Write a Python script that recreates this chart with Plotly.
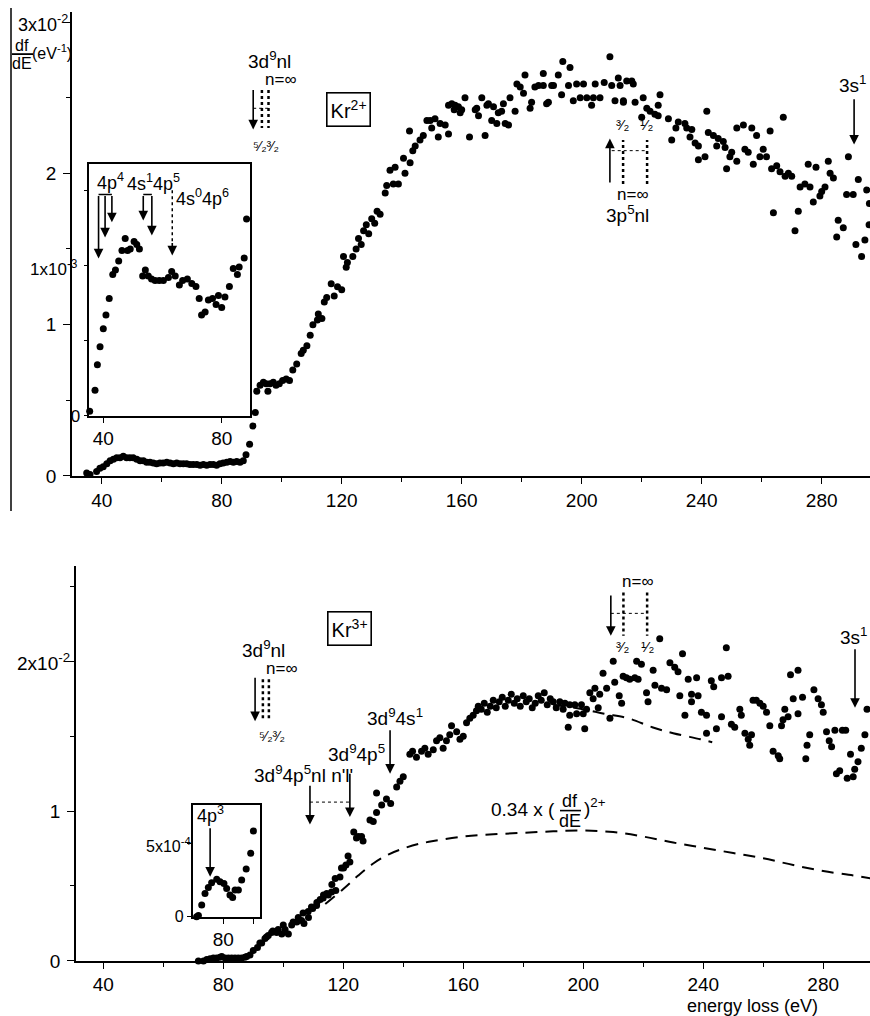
import plotly.graph_objects as go

W = 870
REF_H = 1016          # reference picture height (pixel coordinates used below)
H = 1029              # figure height
FONT = "Liberation Sans, DejaVu Sans, sans-serif"

# ---------------- data ----------------
# Kr2+ : energy loss (eV) and df/dE (units of 1e-2 eV^-1)
kr2_E = [35.0, 36.1, 38.3, 39.4, 40.5, 41.7, 42.8, 43.9, 45.0, 46.1, 47.2, 48.3, 49.4, 50.5,
         51.7, 52.8, 53.9, 55.0, 56.1, 57.2, 58.3, 59.4, 60.5, 61.7, 62.8, 63.9, 65.0, 66.1,
         67.2, 68.3, 69.4, 70.5, 71.7, 72.8, 73.9, 75.0, 76.1, 77.2, 78.3, 79.4, 80.5, 81.7,
         82.8, 83.9, 85.0, 86.1, 87.2, 88.1, 89.3, 90.4, 91.2,
         91.7, 92.8, 93.9, 94.8, 95.4, 96.1, 97.2, 98.1, 99.2, 100.3, 101.5, 102.6, 103.7,
         105.0, 106.5, 107.2, 108.4, 109.5, 110.4, 111.9, 112.2, 113.4, 114.2, 115.0, 116.5,
         117.5, 118.6, 120.0, 120.6, 121.5, 121.9, 123.7,
         124.8, 125.6, 126.5, 127.3, 128.2, 129.0, 130.0, 131.0, 131.8,
         132.8, 134.5, 135.0, 137.2, 138.9, 136.1, 137.8, 140.6, 141.1, 142.8, 143.7, 144.5,
         146.1, 147.2, 148.4, 142.6, 150.0, 149.5, 151.1, 152.2, 152.8, 154.5, 155.6, 155.6,
         156.7, 157.8, 158.9, 157.5, 159.5, 160.0, 161.1, 162.6, 164.5, 165.6, 165.0, 166.7,
         167.8, 168.4, 168.9, 170.0, 170.6, 171.7, 172.2, 173.3, 173.9, 174.5, 175.6, 176.1,
         177.8, 178.4, 179.5, 180.6, 181.1, 182.8, 183.3, 184.4, 185.6, 187.2, 187.2, 188.3,
         188.9, 190.0, 190.6, 192.2, 193.3, 193.7, 195.6, 196.1, 197.2, 198.3, 199.5, 200.6,
         201.7, 203.3, 203.9, 204.5, 206.1, 207.5, 212.8,
         209.4, 210.0, 212.2, 215.0, 216.7, 217.2, 211.1, 213.9, 213.9, 217.8, 220.5, 226.1,
         225.5, 221.7, 222.8, 224.4, 220.0, 225.5, 228.9, 230.0, 231.4, 232.2, 234.4, 235.0,
         236.1, 236.7, 237.8, 238.9, 238.9, 241.1, 241.7, 242.2, 243.9, 245.0, 245.5, 247.2,
         247.8, 248.3, 249.4, 250.0, 251.7, 251.7, 253.9, 254.4, 255.5, 256.7, 257.2, 258.3,
         259.4, 260.5, 261.6, 262.8, 263.3, 263.9, 265.0, 266.1, 267.2, 267.8, 268.9, 270.0,
         271.1, 272.2, 272.8, 274.4, 275.5, 276.1, 277.2, 278.1, 279.4, 280.0, 281.1, 282.2,
         282.8, 283.9, 285.0, 285.5, 287.2, 288.3, 288.9, 290.5, 291.4, 292.2, 293.3, 294.4,
         295.0, 295.8, 295.9]
kr2_y = [0.02, 0.01, 0.03, 0.05, 0.06, 0.08, 0.10, 0.11, 0.12, 0.12, 0.13, 0.12, 0.12, 0.12,
         0.11, 0.10, 0.10, 0.09, 0.09, 0.085, 0.08, 0.085, 0.085, 0.09, 0.085, 0.08, 0.085, 0.08,
         0.08, 0.08, 0.075, 0.075, 0.075, 0.07, 0.075, 0.07, 0.075, 0.075, 0.07, 0.08, 0.085, 0.09,
         0.095, 0.09, 0.095, 0.09, 0.10, 0.14, 0.21, 0.33, 0.42,
         0.56, 0.60, 0.62, 0.61, 0.56, 0.61, 0.62, 0.60, 0.61, 0.63, 0.64, 0.63, 0.70,
         0.74, 0.81, 0.83, 0.86, 0.93, 1.00, 1.03, 1.07, 1.04, 1.15, 1.18, 1.27,
         1.19, 1.25, 1.23, 1.45, 1.38, 1.41, 1.45,
         1.50, 1.57, 1.53, 1.62, 1.66, 1.60, 1.70, 1.67, 1.75,
         1.73, 1.87, 1.92, 1.93, 1.93, 2.02, 2.04, 2.10, 2.00, 2.07, 2.15, 2.18,
         2.22, 2.25, 2.35, 2.28, 2.30, 2.35, 2.36, 2.24, 2.33, 2.32, 2.26, 2.45,
         2.46, 2.45, 2.44, 2.42, 2.40, 2.42, 2.50, 2.24, 2.42, 2.38, 2.43, 2.50,
         2.25, 2.45, 2.46, 2.35, 2.44, 2.33, 2.40, 2.41, 2.46, 2.33, 2.32, 2.50,
         2.41, 2.59, 2.57, 2.53, 2.65, 2.43, 2.47, 2.57, 2.58, 2.66, 2.58, 2.46,
         2.47, 2.58, 2.58, 2.65, 2.52, 2.74, 2.58, 2.70, 2.48, 2.59, 2.50, 2.59,
         2.50, 2.45, 2.50, 2.59, 2.50, 2.60, 2.58,
         2.77, 2.58, 2.63, 2.61, 2.61, 2.59, 2.48, 2.48, 2.47, 2.47, 2.50, 2.52,
         2.45, 2.43, 2.41, 2.39, 2.37, 2.38, 2.36, 2.22, 2.30, 2.34, 2.33, 2.30,
         2.24, 2.29, 2.20, 2.18, 2.09, 2.11, 2.41, 2.27, 2.25, 2.18, 2.23, 2.21,
         2.17, 2.03, 2.11, 2.14, 2.30, 2.08, 2.32, 2.16, 2.14, 2.30, 2.06, 2.25,
         2.11, 2.16, 2.11, 2.28, 2.03, 1.74, 2.05, 2.01, 2.37, 1.98, 2.00, 1.98,
         1.62, 1.75, 1.91, 1.93, 2.06, 1.91, 1.81, 2.04, 1.85, 1.88, 1.91, 2.08,
         2.00, 1.97, 1.58, 1.69, 1.64, 1.86, 2.11, 1.86, 1.53, 1.96, 1.45, 1.56,
         1.89, 1.66, 1.80]

# Kr2+ inset: energy (eV) and df/dE (units of 1e-3 eV^-1)
kr2_in_E = [35.4, 37.2, 38.0, 38.9, 40.0, 40.9, 42.0, 43.2, 44.1, 45.2, 46.3, 47.4, 48.2,
            49.1, 50.4, 51.3, 52.2, 53.3, 54.2, 55.2, 56.3, 57.5, 58.9, 60.3, 62.0, 63.1,
            64.3, 65.7, 66.8, 68.4, 69.9, 71.3, 72.4, 73.2, 74.4, 75.5, 76.9, 78.1, 78.9,
            80.0, 81.1, 82.6, 83.9, 85.3, 85.9, 87.6, 88.4]
kr2_in_y = [0.03, 0.17, 0.34, 0.46, 0.58, 0.67, 0.78, 0.94, 0.97, 1.03, 1.10, 1.18, 1.10,
            1.11, 1.16, 1.14, 1.11, 0.93, 0.97, 0.93, 0.91, 0.90, 0.90, 0.90, 0.92, 0.96,
            0.93, 0.87, 0.90, 0.91, 0.88, 0.86, 0.78, 0.67, 0.69, 0.77, 0.78, 0.74, 0.80,
            0.72, 0.79, 0.86, 0.98, 0.94, 0.99, 1.05, 1.31]

# Kr3+ : energy loss (eV) and df/dE (units of 1e-2 eV^-1)
kr3_E = [71.7, 73.4, 74.5, 75.6, 76.7, 77.8, 78.9, 79.5, 80.6, 81.7, 82.8, 83.9, 85.0, 86.1,
         87.2, 87.8, 88.9, 90.0, 91.4, 92.2, 92.8, 93.9, 94.4, 95.0, 96.1, 96.5, 97.8, 98.3,
         99.5, 100.0, 100.6, 101.7, 102.8, 103.3, 104.5, 105.0, 106.1, 106.6, 106.9, 108.3,
         108.4, 109.4, 109.8, 111.1, 111.2, 112.3, 113.3, 113.4, 114.5, 115.0, 116.1, 116.2,
         117.3, 117.5, 118.9, 119.4, 120.1, 120.9, 121.6, 122.2, 123.5, 124.4, 125.0, 126.1,
         126.6, 128.9, 130.0, 131.1, 131.1, 132.8, 134.4, 135.8, 137.8, 138.9, 140.0, 142.2,
         143.1, 144.4, 146.1, 147.2, 148.3, 150.0, 151.1, 152.2, 153.3, 154.4, 155.5, 156.1,
         157.8, 158.9, 160.0, 161.1, 162.2, 163.3, 164.4, 165.0,
         166.0, 167.0, 168.0, 169.0, 170.0, 171.0, 172.0, 173.0, 174.0, 175.0, 176.0, 177.0,
         178.0, 179.0, 180.0, 181.0, 182.0, 183.0, 184.0, 185.0, 186.0, 187.0, 188.0, 189.0,
         190.0, 191.0,
         192.2, 193.9, 195.5, 193.3, 195.5, 197.2, 197.8, 199.4, 200.0, 200.5, 195.0, 201.1,
         202.2, 203.3, 203.9, 205.0, 205.5, 206.6, 207.8, 208.9, 210.0, 210.5, 212.0, 212.8,
         213.3, 214.4, 215.5, 217.2, 218.3, 217.8, 219.4, 221.1, 221.6, 223.3, 223.9, 225.5,
         226.1, 227.8, 228.9, 230.5, 231.6, 233.1, 232.2, 233.9, 235.0, 236.1, 236.1, 237.8,
         238.3, 239.4, 241.1, 241.1, 242.7, 243.5, 244.4, 246.1, 246.1, 247.7, 248.3, 249.4,
         250.5, 252.2, 252.7, 253.9, 255.0, 255.5, 256.1, 256.6, 257.7, 258.9, 260.0, 261.1,
         262.2, 263.3, 265.0, 265.5, 266.1, 266.6, 267.2, 268.3, 269.1, 270.0, 271.6, 271.6,
         273.1, 274.2, 274.6, 275.5, 276.9, 278.3, 279.4, 280.0, 281.1, 282.0, 282.8, 283.9,
         284.4, 285.5, 286.4, 287.5, 288.0, 289.1, 290.0, 290.5, 291.6, 292.7, 293.9, 294.6]
kr3_y = [0.0, 0.0, 0.01, 0.015, 0.02, 0.02, 0.025, 0.03, 0.02, 0.02, 0.02, 0.02, 0.02, 0.02,
         0.025, 0.03, 0.04, 0.07, 0.09, 0.12, 0.12, 0.15, 0.16, 0.17, 0.19, 0.20, 0.19, 0.21,
         0.18, 0.24, 0.21, 0.18, 0.24, 0.26, 0.26, 0.29, 0.27, 0.32, 0.25, 0.33,
         0.29, 0.36, 0.35, 0.37, 0.39, 0.41, 0.42, 0.44, 0.45, 0.44, 0.46, 0.51,
         0.55, 0.47, 0.56, 0.62, 0.62, 0.64, 0.70, 0.66, 0.86, 0.82, 0.83, 0.83,
         0.80, 0.94, 0.93, 0.99, 1.12, 1.04, 1.08, 1.05, 1.16, 1.20, 1.23, 1.38,
         1.40, 1.36, 1.40, 1.42, 1.38, 1.41, 1.47, 1.49, 1.42, 1.47, 1.51, 1.57,
         1.53, 1.48, 1.50, 1.59, 1.62, 1.64, 1.67, 1.70,
         1.68, 1.72, 1.66, 1.70, 1.74, 1.69, 1.73, 1.76, 1.70, 1.74, 1.78, 1.72,
         1.75, 1.70, 1.77, 1.73, 1.75, 1.69, 1.72, 1.77, 1.74, 1.79, 1.71, 1.75,
         1.73, 1.69,
         1.73, 1.72, 1.71, 1.68, 1.64, 1.71, 1.65, 1.71, 1.65, 1.55, 1.56, 1.68,
         1.79, 1.75, 1.82, 1.69, 1.78, 1.92, 1.82, 1.62, 2.00, 1.86, 1.77, 1.72,
         1.90, 1.89, 1.88, 1.89, 1.88, 2.00, 1.98, 1.79, 1.73, 1.94, 1.84, 2.15,
         1.82, 1.81, 1.99, 1.96, 1.93, 2.05, 1.77, 1.64, 1.88, 1.78, 1.73, 1.89,
         1.77, 1.66, 1.52, 1.64, 1.87, 1.83, 1.55, 1.89, 1.63, 2.09, 1.90, 1.58,
         1.56, 1.68, 1.64, 1.52, 1.48, 1.44, 1.51, 1.74, 1.74, 1.72, 1.70, 1.66,
         1.57, 1.40, 1.37, 1.35, 1.57, 1.61, 1.68, 1.63, 1.91, 1.75, 1.94, 1.65,
         1.76, 1.35, 1.44, 1.51, 1.81, 1.75, 1.71, 1.66, 1.53, 1.47, 1.43, 1.54,
         1.25, 1.27, 1.54, 1.54, 1.22, 1.38, 1.23, 1.28, 1.33, 1.42, 1.51, 1.68]

# Kr3+ inset: energy (eV) and df/dE (units of 1e-4 eV^-1)
kr3_in_E = [71.1, 71.7, 72.8, 73.9, 75.0, 76.1, 77.8, 78.9, 80.2, 81.1, 82.2, 83.1, 83.9,
            85.0, 86.1, 87.6, 89.1, 90.0]
kr3_in_y = [0.0, 0.08, 0.8, 1.59, 2.0, 2.32, 2.56, 2.39, 2.27, 1.93, 1.48, 1.32, 1.82,
            1.82, 2.5, 3.25, 4.32, 5.84]

# dashed curve: 0.34 x (df/dE) of Kr2+
scaled_E = [114, 120, 125, 130, 135, 140, 145, 150, 160, 170, 180, 190, 200, 210, 220,
            230, 240, 250, 260, 270, 280, 290, 296]
scaled_y = [0.38, 0.48, 0.57, 0.65, 0.71, 0.75, 0.78, 0.80, 0.83, 0.845, 0.855, 0.865,
            0.87, 0.86, 0.83, 0.79, 0.755, 0.72, 0.685, 0.64, 0.60, 0.57, 0.55]

# dashed curve: extrapolated Kr3+ background
extrap_E = [190, 200, 207, 215, 223, 230, 239, 243]
extrap_y = [1.71, 1.68, 1.65, 1.62, 1.56, 1.52, 1.48, 1.46]

x_major = [40, 80, 120, 160, 200, 240, 280]
x_minor = [60, 100, 140, 180, 220, 260]

# ---------------- helpers ----------------
def px(X):
    return X / W

def py(Y):
    return 1 - Y / REF_H

ann = []
shapes = []

def txt(x, y, s, xr="x", yr="y", size=19, xanchor="center", yanchor="middle", box=False):
    d = dict(x=x, y=y, xref=xr, yref=yr, text=s, showarrow=False,
             font=dict(size=size, color="black", family=FONT),
             xanchor=xanchor, yanchor=yanchor)
    if box:
        d.update(bordercolor="black", borderwidth=1.6, borderpad=3, bgcolor="white")
    ann.append(d)

def arrow(x, y0, y1, xr="x", yr="y"):
    ann.append(dict(x=x, y=y1, ax=x, ay=y0, xref=xr, yref=yr, axref=xr, ayref=yr,
                    text="", showarrow=True, arrowhead=2, arrowsize=1.2,
                    arrowwidth=1.6, arrowcolor="black"))

def seg(x0, y0, x1, y1, xr="x", yr="y", dash="solid", width=1.5):
    shapes.append(dict(type="line", x0=x0, y0=y0, x1=x1, y1=y1, xref=xr, yref=yr,
                       line=dict(color="black", width=width, dash=dash)))

# ---------------- figure ----------------
fig = go.Figure()
mk = dict(color="black", size=7)
fig.add_trace(go.Scatter(x=kr2_E, y=kr2_y, mode="markers", marker=mk,
                         xaxis="x", yaxis="y", cliponaxis=False, showlegend=False))
fig.add_trace(go.Scatter(x=kr2_in_E, y=kr2_in_y, mode="markers", marker=mk,
                         xaxis="x2", yaxis="y2", cliponaxis=False, showlegend=False))
fig.add_trace(go.Scatter(x=kr3_E, y=kr3_y, mode="markers", marker=mk,
                         xaxis="x3", yaxis="y3", cliponaxis=False, showlegend=False))
fig.add_trace(go.Scatter(x=kr3_in_E, y=kr3_in_y, mode="markers", marker=mk,
                         xaxis="x4", yaxis="y4", cliponaxis=False, showlegend=False))
dline = dict(color="black", width=2, dash="12px,8px")
fig.add_trace(go.Scatter(x=scaled_E, y=scaled_y, mode="lines", line=dline, line_shape="spline",
                         xaxis="x3", yaxis="y3", showlegend=False))
fig.add_trace(go.Scatter(x=extrap_E, y=extrap_y, mode="lines", line=dline, line_shape="spline",
                         xaxis="x3", yaxis="y3", showlegend=False))

tf = dict(size=19, color="black", family=FONT)
common = dict(showline=True, linecolor="black", linewidth=1.6, ticks="outside",
              tickcolor="black", tickwidth=1.4, showgrid=False, zeroline=False,
              tickfont=tf)
minor_y = dict(tickvals=[0.5, 1.5, 2.5], ticks="outside", ticklen=4,
               tickcolor="black", tickwidth=1.2)

xa_main = dict(common, tickvals=x_major, ticklen=6,
               minor=dict(tickvals=x_minor, ticks="outside", ticklen=4,
                          tickcolor="black", tickwidth=1.2))

fig.update_layout(
    xaxis=dict(xa_main, domain=[px(72), 1], range=[30.1, 296.1], anchor="y"),
    yaxis=dict(common, domain=[py(475), py(12)], range=[0, (475 - 12) / 151],
               anchor="x", tickvals=[0, 1, 2, 3], ticktext=["0", "1", "2", ""],
               ticklen=7, ticklabelstandoff=3, minor=minor_y),
    xaxis2=dict(common, domain=[px(89.3), px(250)], range=[35.27, 89.56], anchor="y2",
                mirror=True, tickvals=[40, 80], ticklen=5),
    yaxis2=dict(common, domain=[py(415), py(164)], range=[0, 1.673], anchor="x2",
                mirror=True, tickvals=[0, 1], ticktext=["0", ""], ticklen=4,
                minor=dict(tickvals=[0.5, 1.5], ticks="outside", ticklen=4,
                           tickcolor="black", tickwidth=1.2),
                tickfont=dict(size=17, color="black", family=FONT)),
    xaxis3=dict(xa_main, domain=[px(76), 1], range=[30.9, 295.6], anchor="y3"),
    yaxis3=dict(common, domain=[py(959), py(565)], range=[0, (959 - 565) / 149.5],
                anchor="x3", tickvals=[0, 1, 2], ticktext=["0", "1", ""],
                ticklen=7, ticklabelstandoff=3, minor=minor_y),
    xaxis4=dict(common, domain=[px(192.7), px(260)], range=[69.8, 92.2], anchor="y4",
                mirror=True, tickvals=[80], ticklen=5,
                minor=dict(tickvals=[90], ticks="outside", ticklen=5,
                           tickcolor="black", tickwidth=1.2)),
    yaxis4=dict(common, domain=[py(915), py(803)], range=[0, 7.63], anchor="x4",
                mirror=True, tickvals=[0, 5], ticktext=["0", ""],
                ticklen=4, tickfont=dict(size=16, color="black", family=FONT)),
)

# exponent-style y tick labels, placed close to their ticks as in the original
def paper_label(X, Y, s, size):
    txt(px(X), py(Y), s, xr="paper", yr="paper", size=size, xanchor="right")

paper_label(70, 23, "3x10<sup>-2</sup>", 18)     # top axis, value 3
paper_label(72, 661, "2x10<sup>-2</sup>", 19)    # bottom axis, value 2
paper_label(80, 267, "1x10<sup>-3</sup>", 17)    # top inset, value 1
paper_label(193, 843, "5x10<sup>-4</sup>", 16)   # bottom inset, value 5

# ---- top panel annotations ----
txt(96.0, 2.75, "3d<sup>9</sup>nl")
txt(99.6, 2.62, "n=∞", size=17)
arrow(90.5, 2.56, 2.29)
seg(93.4, 2.55, 93.4, 2.30, dash="dot", width=2.5)
seg(95.6, 2.55, 95.6, 2.30, dash="dot", width=2.5)
seg(90.5, 2.43, 95.6, 2.43, dash="dot", width=1)
txt(94.8, 2.18, "⁵⁄₂³⁄₂", size=14)
txt(122.1, 2.42, "Kr<sup>2+</sup>", size=20, box=True)

arrow(209.4, 1.93, 2.23)
seg(213.8, 1.93, 213.8, 2.22, dash="dot", width=2.5)
seg(221.8, 1.93, 221.8, 2.22, dash="dot", width=2.5)
seg(210.0, 2.15, 221.8, 2.15, dash="dot", width=1)
txt(213.8, 2.32, "³⁄₂", size=15)
txt(221.8, 2.32, "¹⁄₂", size=15)
txt(217.1, 1.86, "n=∞", size=17)
txt(215.1, 1.73, "3p<sup>5</sup>nl")

txt(290.4, 2.59, "3s<sup>1</sup>")
arrow(290.8, 2.50, 2.19)

# top inset annotations
txt(42.3, 1.56, "4p<sup>4</sup>", xr="x2", yr="y2", size=18)
seg(38.4, 1.473, 42.9, 1.473, xr="x2", yr="y2")
arrow(38.4, 1.473, 1.047, xr="x2", yr="y2")
arrow(40.6, 1.473, 1.187, xr="x2", yr="y2")
arrow(42.9, 1.473, 1.287, xr="x2", yr="y2")
txt(57.0, 1.553, "4s<sup>1</sup>4p<sup>5</sup>", xr="x2", yr="y2", size=18)
seg(53.5, 1.473, 56.4, 1.473, xr="x2", yr="y2")
arrow(53.5, 1.473, 1.30, xr="x2", yr="y2")
arrow(56.4, 1.473, 1.20, xr="x2", yr="y2")
txt(63.9, 1.45, "4s<sup>0</sup>4p<sup>6</sup>", xr="x2", yr="y2", size=18, xanchor="left")
seg(63.3, 1.50, 63.3, 1.15, xr="x2", yr="y2", dash="dot", width=1.5)
arrow(63.3, 1.16, 1.067, xr="x2", yr="y2")

# y-axis label (top)
txt(px(22), py(45), "df", xr="paper", yr="paper", size=16)
txt(px(22), py(63), "dE", xr="paper", yr="paper", size=16)
seg(px(12), py(54), px(33), py(54), xr="paper", yr="paper", width=1.8)
txt(px(52), py(52), "(eV<sup>-1</sup>)", xr="paper", yr="paper", size=16)

# ---- bottom panel annotations ----
txt(122.2, 2.22, "Kr<sup>3+</sup>", xr="x3", yr="y3", size=20, box=True)
txt(93.3, 2.08, "3d<sup>9</sup>nl", xr="x3", yr="y3")
txt(99.6, 1.95, "n=∞", xr="x3", yr="y3", size=17)
arrow(90.6, 1.90, 1.60, xr="x3", yr="y3")
seg(93.2, 1.88, 93.2, 1.61, xr="x3", yr="y3", dash="dot", width=2.5)
seg(95.2, 1.88, 95.2, 1.61, xr="x3", yr="y3", dash="dot", width=2.5)
txt(96.2, 1.50, "⁵⁄₂³⁄₂", xr="x3", yr="y3", size=14)
txt(106.6, 1.25, "3d<sup>9</sup>4p<sup>5</sup>nl n'l'", xr="x3", yr="y3")
arrow(108.9, 1.18, 0.91, xr="x3", yr="y3")
seg(108.9, 1.06, 122.2, 1.06, xr="x3", yr="y3", dash="dot", width=1)
arrow(122.2, 1.26, 0.96, xr="x3", yr="y3")
txt(124.5, 1.39, "3d<sup>9</sup>4p<sup>5</sup>", xr="x3", yr="y3")
txt(137.2, 1.63, "3d<sup>9</sup>4s<sup>1</sup>", xr="x3", yr="y3")
arrow(135.6, 1.55, 1.25, xr="x3", yr="y3")

txt(215.6, 2.66, "3p<sup>5</sup>nl", xr="x3", yr="y3")
txt(218.4, 2.53, "n=∞", xr="x3", yr="y3", size=17)
arrow(209.2, 2.45, 2.17, xr="x3", yr="y3")
seg(213.4, 2.46, 213.4, 2.17, xr="x3", yr="y3", dash="dot", width=2.5)
seg(221.3, 2.46, 221.3, 2.17, xr="x3", yr="y3", dash="dot", width=2.5)
seg(209.2, 2.32, 221.3, 2.32, xr="x3", yr="y3", dash="dot", width=1)
txt(213.4, 2.10, "³⁄₂", xr="x3", yr="y3", size=15)
txt(221.6, 2.10, "¹⁄₂", xr="x3", yr="y3", size=15)

txt(290.0, 2.17, "3s<sup>1</sup>", xr="x3", yr="y3")
arrow(290.6, 2.09, 1.69, xr="x3", yr="y3")

# bottom inset annotation
txt(75.6, 6.95, "4p<sup>3</sup>", xr="x4", yr="y4", size=18)
arrow(75.6, 6.13, 2.73, xr="x4", yr="y4")

# 0.34 x (df/dE)^2+ label
txt(px(557), py(808), "0.34 x (", xr="paper", yr="paper", size=19, xanchor="right")
txt(px(570), py(799), "df", xr="paper", yr="paper", size=18)
txt(px(570), py(819), "dE", xr="paper", yr="paper", size=18)
seg(px(560), py(809), px(581), py(809), xr="paper", yr="paper", width=1.6)
txt(px(582), py(805), ")<sup>2+</sup>", xr="paper", yr="paper", size=19, xanchor="left")

# x-axis title
txt(px(752), py(1004), "energy loss (eV)", xr="paper", yr="paper", size=18)

# scan border line on the left of the upper panel
seg(px(11), py(8), px(11), py(510), xr="paper", yr="paper", width=1.5)

fig.update_layout(
    width=W, height=H, margin=dict(l=0, r=0, t=0, b=0),
    paper_bgcolor="white", plot_bgcolor="rgba(0,0,0,0)",
    annotations=ann, shapes=shapes, showlegend=False,
    font=dict(family=FONT, color="black"),
)

fig.write_html("out.html", config={"displayModeBar": False},
               post_script="document.body.style.margin='0px';"
                           "document.body.style.overflow='hidden';")
